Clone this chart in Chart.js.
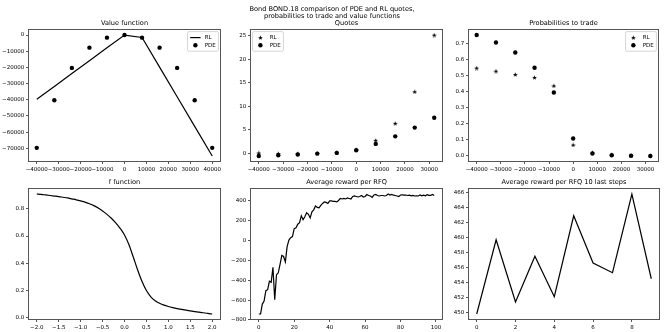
<!DOCTYPE html>
<html>
<head>
<meta charset="utf-8">
<script src="https://cdn.jsdelivr.net/npm/chart.js@4.4.1/dist/chart.umd.min.js"></script>
<style>
  body { margin: 0; background: #fff; }
  #fig { position: relative; width: 664px; height: 332px; overflow: hidden; }
  #fig canvas { position: absolute; left: 0; top: 0; }
  #suptitle { position: absolute; left: 0; top: 6px; width: 664px; text-align: center;
              font: 6.6px/7px "DejaVu Sans", sans-serif; color: #000; }
</style>
</head>
<body>
<div id="fig">
  <canvas id="value" width="664" height="332"></canvas>
  <canvas id="quotes" width="664" height="332"></canvas>
  <canvas id="proba" width="664" height="332"></canvas>
  <canvas id="ffunc" width="664" height="332"></canvas>
  <canvas id="reward" width="664" height="332"></canvas>
  <canvas id="last" width="664" height="332"></canvas>
  <div id="suptitle">Bond BOND.18 comparison of PDE and RL quotes,<br>probabilities to trade and value functions</div>
</div>
<script>
// inventories
const inventory = [-40000, -32000, -24000, -16000, -8000, 0, 8000, 16000, 24000, 32000, 40000];
const quoteInventory = [-40000, -32000, -24000, -16000, -8000, 0, 8000, 16000, 24000, 32000];

// value functions
const valueRL  = [-39700, -31800, -23800, -15900, -7900, 0, -1500, -19800, -38100, -56400, -74700];
const valuePDE = [-69700, -40300, -20300, -7800, -1600, 0, -1600, -7800, -20300, -40300, -69700];

// quotes
const quotesRL  = [0.15, 0.02, 0.0, 0.05, 0.2, 0.85, 2.8, 6.4, 13.1, 25.1];
const quotesPDE = [-0.5, -0.35, -0.2, 0.0, 0.15, 0.7, 2.05, 3.65, 5.5, 7.6];

// probabilities to trade
const probaRL  = [0.549, 0.530, 0.509, 0.490, 0.438, 0.069, 0.021, 0.008, 0.002, 0.0];
const probaPDE = [0.755, 0.708, 0.646, 0.551, 0.396, 0.109, 0.015, 0.004, 0.001, 0.0];

// f function
const fX = [-2.0, -1.9, -1.8, -1.7, -1.6, -1.5, -1.4, -1.3, -1.2, -1.1, -1.0, -0.9, -0.8, -0.7,
            -0.6, -0.5, -0.4, -0.3, -0.2, -0.1, 0.0, 0.1, 0.2, 0.3, 0.4, 0.5, 0.6, 0.7, 0.8, 0.9,
            1.0, 1.1, 1.2, 1.3, 1.4, 1.5, 1.6, 1.7, 1.8, 1.9, 2.0];
const fY = [0.910, 0.907, 0.903, 0.899, 0.895, 0.891, 0.886, 0.881, 0.874, 0.867, 0.859, 0.850,
            0.838, 0.824, 0.806, 0.785, 0.760, 0.731, 0.697, 0.657, 0.608, 0.537, 0.445, 0.350,
            0.265, 0.198, 0.152, 0.123, 0.104, 0.090, 0.080, 0.072, 0.065, 0.059, 0.053, 0.048,
            0.043, 0.039, 0.034, 0.029, 0.025];

// average reward per RFQ, one value per step
const rewardAvg = [
  -740, -740, -640, -610, -505, -495, -410, -420, -270, -595,
  -345, -325, -240, -150, -160, -215, -60, 5, 30, 40,
  120, 130, 165, 180, 250, 210, 240, 280, 265, 230,
  290, 310, 350, 335, 330, 355, 375, 390, 385, 375,
  400, 400, 395, 395, 390, 405, 425, 420, 425, 420,
  430, 425, 420, 445, 450, 445, 440, 445, 455, 440,
  445, 465, 455, 450, 435, 460, 465, 455, 450, 455,
  455, 450, 455, 470, 460, 465, 458, 455, 450, 445,
  460, 462, 458, 460, 455, 458, 452, 455, 450, 452,
  449.8, 459.7, 451.4, 457.5, 452.1, 462.9, 456.6, 455.3, 465.8, 454.5
];
const lastTen = rewardAvg.slice(-10);

// tick labels
const invTicks = [-40000, -30000, -20000, -10000, 0, 10000, 20000, 30000, 40000];
const quoteInvTicks = [-40000, -30000, -20000, -10000, 0, 10000, 20000, 30000];
const valueTicks = [0, -10000, -20000, -30000, -40000, -50000, -60000, -70000];
const quoteTicks = [0, 5, 10, 15, 20, 25];
const probaTicks = [0, 0.1, 0.2, 0.3, 0.4, 0.5, 0.6, 0.7];
const fXTicks = [-2, -1.5, -1, -0.5, 0, 0.5, 1, 1.5, 2];
const fYTicks = [0, 0.2, 0.4, 0.6, 0.8];
const rewardXTicks = [0, 20, 40, 60, 80, 100];
const rewardYTicks = [-800, -600, -400, -200, 0, 200, 400];
const lastXTicks = [0, 2, 4, 6, 8];
const lastYTicks = [450, 452, 454, 456, 458, 460, 462, 464, 466];

Chart.defaults.font.family = "'DejaVu Sans', sans-serif";
Chart.defaults.color = '#000';

const TICK_FS = 5.5, TITLE_FS = 6.6;
const AXIS_COLOR = '#555';

function fmt(v, dec) {
  const s = Math.abs(v).toFixed(dec);
  return (v < -1e-9 ? '\u2212' : '') + s;
}

// matplotlib-like 5% margins around the data
function lim(arrs) {
  const v = arrs.flat();
  const lo = Math.min(...v), hi = Math.max(...v), m = (hi - lo) * 0.05;
  return [lo - m, hi + m];
}

function pts(xs, ys) { return ys.map((y, i) => ({x: xs[i], y: y})); }

function starImage(size) {
  const c = document.createElement('canvas');
  c.width = c.height = size;
  const g = c.getContext('2d');
  const r = size / 2, ri = r * 0.42;
  g.beginPath();
  for (let i = 0; i < 10; i++) {
    const a = -Math.PI / 2 + i * Math.PI / 5;
    const rr = i % 2 ? ri : r;
    g.lineTo(r + rr * Math.cos(a), r + 0.3 + rr * Math.sin(a));
  }
  g.closePath();
  g.fillStyle = '#000';
  g.fill();
  return c;
}
const STAR = starImage(5);

const framePlugin = {
  id: 'frame',
  afterDatasetsDraw(chart) {
    const a = chart.chartArea, ctx = chart.ctx;
    ctx.save();
    ctx.strokeStyle = AXIS_COLOR;
    ctx.lineWidth = 1;
    ctx.strokeRect(Math.round(a.left) + 0.5, Math.round(a.top) + 0.5,
                   Math.round(a.right - a.left) - 1, Math.round(a.bottom - a.top) - 1);
    ctx.restore();
  }
};

const legendPlugin = {
  id: 'mplLegend',
  afterDraw(chart, args, opts) {
    if (!opts || !opts.items) return;
    const ctx = chart.ctx, a = chart.chartArea;
    ctx.save();
    ctx.font = TICK_FS + "px 'DejaVu Sans'";
    const tw = Math.max(...opts.items.map(it => ctx.measureText(it.label).width));
    const padX = 2.6, handle = 10.4, gap = 4.2, first = 6.0, step = 7.6;
    const w = padX * 2 + handle + gap + tw;
    const h = first * 2 + step * (opts.items.length - 1);
    const x0 = opts.corner === 'ul' ? a.left + 2.6 : a.right - 2.6 - w;
    const y0 = a.top + 2.6;
    ctx.beginPath();
    if (ctx.roundRect) ctx.roundRect(x0, y0, w, h, 1.5); else ctx.rect(x0, y0, w, h);
    ctx.fillStyle = 'rgba(255,255,255,0.8)';
    ctx.fill();
    ctx.strokeStyle = '#ccc';
    ctx.lineWidth = 0.8;
    ctx.stroke();
    opts.items.forEach((it, i) => {
      const cy = y0 + first + i * step;
      const hx = x0 + padX;
      const cx = hx + handle / 2;
      ctx.fillStyle = '#000';
      ctx.strokeStyle = '#000';
      if (it.kind === 'line') {
        ctx.lineWidth = 1.2;
        ctx.beginPath(); ctx.moveTo(hx, cy); ctx.lineTo(hx + handle, cy); ctx.stroke();
      } else if (it.kind === 'dot') {
        ctx.beginPath(); ctx.arc(cx, cy, 2.2, 0, Math.PI * 2); ctx.fill();
      } else {
        ctx.drawImage(STAR, cx - STAR.width / 2, cy - STAR.height / 2);
      }
      ctx.textBaseline = 'middle';
      ctx.textAlign = 'left';
      ctx.fillText(it.label, hx + handle + gap, cy);
    });
    ctx.restore();
  }
};

function axis(range, ticks, dec, fit) {
  return {
    type: 'linear',
    min: range[0],
    max: range[1],
    afterBuildTicks: s => { s.ticks = ticks.map(v => ({value: v})); },
    afterFit: fit,
    ticks: {
      autoSkip: false, maxRotation: 0, minRotation: 0, padding: 1.8,
      color: '#000', font: {size: TICK_FS},
      callback: v => fmt(v, dec)
    },
    grid: {display: true, drawOnChartArea: false, drawTicks: true, tickLength: 2,
           tickColor: AXIS_COLOR, tickWidth: 1},
    border: {display: false}
  };
}

const WY = 26, HX = 12, TITLE_PAD = 1.8;
const TITLE_H = TITLE_FS * 1.2 + TITLE_PAD;

function panel(id, frame, title, datasets, xAx, yAx, legend) {
  new Chart(document.getElementById(id), {
    type: 'scatter',
    data: {datasets: datasets},
    options: {
      responsive: false,
      animation: false,
      devicePixelRatio: 1,
      events: [],
      layout: {padding: {left: frame[0] - WY, top: frame[1] - TITLE_H,
                         right: 664 - frame[2], bottom: 332 - frame[3] - HX}},
      scales: {
        x: axis(xAx.range, xAx.ticks, xAx.dec, s => { s.height = HX; s.paddingLeft = 0; s.paddingRight = 0; }),
        y: axis(yAx.range, yAx.ticks, yAx.dec, s => { s.width = WY; s.paddingTop = 0; s.paddingBottom = 0; })
      },
      plugins: {
        legend: {display: false},
        tooltip: {enabled: false},
        title: {display: true, text: title, fullSize: false, color: '#000',
                font: {size: TITLE_FS, weight: 'normal'}, padding: {top: 0, bottom: TITLE_PAD}},
        mplLegend: legend || {}
      }
    },
    plugins: [framePlugin, legendPlugin]
  });
}

function lineSet(label, data, extra) {
  return Object.assign({label: label, data: data, showLine: true, borderColor: '#000',
                        borderWidth: 1.2, pointRadius: 0, tension: 0}, extra || {});
}
function dotSet(label, data) {
  return {label: label, data: data, pointRadius: 2.2, pointBackgroundColor: '#000',
          pointBorderWidth: 0, borderColor: '#000'};
}
function starSet(label, data) {
  return {label: label, data: data, pointStyle: STAR, pointRadius: 2.5, borderColor: '#000'};
}

const topT = 29, topB = 162, botT = 188, botB = 320;
const col1 = [28, 221], col2 = [250, 443], col3 = [468, 660];

panel('value', [col1[0], topT, col1[1], topB], 'Value function',
  [lineSet('RL', pts(inventory, valueRL)), dotSet('PDE', pts(inventory, valuePDE))],
  {range: lim([inventory]), ticks: invTicks, dec: 0},
  {range: lim([valueRL, valuePDE]), ticks: valueTicks, dec: 0},
  {corner: 'ur', items: [{label: 'RL', kind: 'line'}, {label: 'PDE', kind: 'dot'}]});

panel('quotes', [col2[0], topT, col2[1], topB], 'Quotes',
  [starSet('RL', pts(quoteInventory, quotesRL)), dotSet('PDE', pts(quoteInventory, quotesPDE))],
  {range: lim([quoteInventory]), ticks: quoteInvTicks, dec: 0},
  {range: lim([quotesRL, quotesPDE]), ticks: quoteTicks, dec: 0},
  {corner: 'ul', items: [{label: 'RL', kind: 'star'}, {label: 'PDE', kind: 'dot'}]});

panel('proba', [col3[0], topT, col3[1], topB], 'Probabilities to trade',
  [starSet('RL', pts(quoteInventory, probaRL)), dotSet('PDE', pts(quoteInventory, probaPDE))],
  {range: lim([quoteInventory]), ticks: quoteInvTicks, dec: 0},
  {range: lim([probaRL, probaPDE]), ticks: probaTicks, dec: 1},
  {corner: 'ur', items: [{label: 'RL', kind: 'star'}, {label: 'PDE', kind: 'dot'}]});

panel('ffunc', [col1[0], botT, col1[1], botB], 'f function',
  [lineSet('f', pts(fX, fY), {cubicInterpolationMode: 'monotone'})],
  {range: lim([fX]), ticks: fXTicks, dec: 1},
  {range: lim([fY]), ticks: fYTicks, dec: 1});

const steps = rewardAvg.map((v, i) => i);
panel('reward', [col2[0], botT, col2[1], botB], 'Average reward per RFQ',
  [lineSet('reward', pts(steps, rewardAvg))],
  {range: lim([steps]), ticks: rewardXTicks, dec: 0},
  {range: lim([rewardAvg]), ticks: rewardYTicks, dec: 0});

const lastSteps = lastTen.map((v, i) => i);
panel('last', [col3[0], botT, col3[1], botB], 'Average reward per RFQ 10 last steps',
  [lineSet('last', pts(lastSteps, lastTen))],
  {range: lim([lastSteps]), ticks: lastXTicks, dec: 0},
  {range: lim([lastTen]), ticks: lastYTicks, dec: 0});
</script>
</body>
</html>
